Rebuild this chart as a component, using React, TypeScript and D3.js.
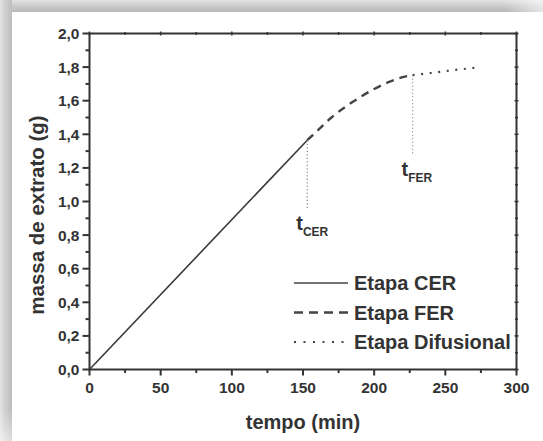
import React from "react";
import * as d3 from "d3";

const xTicks = [0, 50, 100, 150, 200, 250, 300];
const xMinor = [25, 75, 125, 175, 225, 275];
const yTicks = [0, 0.2, 0.4, 0.6, 0.8, 1.0, 1.2, 1.4, 1.6, 1.8, 2.0];
const yMinor = [0.1, 0.3, 0.5, 0.7, 0.9, 1.1, 1.3, 1.5, 1.7, 1.9];

const cerT = [0, 153];
const cerV = [0, 1.365];
const ferT = [153, 160, 170, 180, 190, 200, 210, 220, 227];
const ferV = [1.365, 1.42, 1.5, 1.565, 1.62, 1.67, 1.71, 1.74, 1.752];
const difT = [227, 240, 250, 260, 275];
const difV = [1.752, 1.765, 1.776, 1.786, 1.8];

const markerT = [153, 227];
const markerTop = [1.365, 1.752];
const markerBottom = [0.96, 1.28];
const markerSub = ["CER", "FER"];

const legendLabels = ["Etapa CER", "Etapa FER", "Etapa Difusional"];

const FONT = "'Liberation Sans', Arial, Helvetica, sans-serif";
const INK = "#333";

export default function App() {
  const x = d3.scaleLinear().domain([0, 300]).range([89.5, 516.5]);
  const y = d3.scaleLinear().domain([0, 2]).range([369.5, 33.5]);
  const line = d3
    .line<[number, number]>()
    .x((d) => x(d[0]))
    .y((d) => y(d[1]))
    .curve(d3.curveMonotoneX);
  const zip = (a: number[], b: number[]) => a.map((t, i) => [t, b[i]] as [number, number]);

  const styles = [
    { dash: undefined as string | undefined, legDash: undefined as string | undefined, w: 1.6 },
    { dash: "8 6", legDash: "9 6", w: 2.4 },
    { dash: "2 6.6", legDash: "2 7.5", w: 2.2 },
  ];
  const series = [zip(cerT, cerV), zip(ferT, ferV), zip(difT, difV)];
  const fmt = (v: number) => v.toFixed(1).replace(".", ",");

  return (
    <svg
      width={543}
      height={441}
      style={{ position: "absolute", left: 0, top: 0, display: "block" }}
      fontFamily={FONT}
    >
      <defs>
        <linearGradient id="topG" x1="0" y1="0" x2="0" y2="1">
          <stop offset="0" stopColor="#e4e4e4" />
          <stop offset="0.4" stopColor="#cfcfcf" />
          <stop offset="1" stopColor="#b9b9b9" />
        </linearGradient>
        <linearGradient id="topFade" x1="0" y1="0" x2="1" y2="0">
          <stop offset="0" stopColor="#fff" stopOpacity="0" />
          <stop offset="0.93" stopColor="#fff" stopOpacity="0" />
          <stop offset="1" stopColor="#fff" stopOpacity="0.6" />
        </linearGradient>
        <linearGradient id="leftG" x1="0" y1="0" x2="1" y2="0">
          <stop offset="0" stopColor="#e4e4e4" />
          <stop offset="0.4" stopColor="#d0d0d0" />
          <stop offset="1" stopColor="#bdbdbd" />
        </linearGradient>
        <linearGradient id="leftFade" x1="0" y1="0" x2="0" y2="1">
          <stop offset="0" stopColor="#fff" stopOpacity="0" />
          <stop offset="0.93" stopColor="#fff" stopOpacity="0" />
          <stop offset="1" stopColor="#fff" stopOpacity="0.5" />
        </linearGradient>
      </defs>
      <rect x={0} y={0} width={543} height={441} fill="#fff" />
      <rect x={0} y={0} width={543} height={12} fill="url(#topG)" />
      <rect x={0} y={0} width={543} height={12} fill="url(#topFade)" />
      <rect x={0} y={0} width={12} height={441} fill="url(#leftG)" />
      <rect x={0} y={0} width={12} height={441} fill="url(#leftFade)" />

      {/* curves */}
      {series.map((s, i) => (
        <path
          key={i}
          d={line(s) || ""}
          fill="none"
          stroke={i === 0 ? "#3a3a3a" : "#444"}
          strokeWidth={styles[i].w}
          strokeDasharray={styles[i].dash}
          strokeLinecap="butt"
        />
      ))}

      {/* marker verticals */}
      {markerT.map((t, i) => (
        <line
          key={i}
          x1={x(t)}
          x2={x(t)}
          y1={y(markerTop[i])}
          y2={y(markerBottom[i])}
          stroke="#888"
          strokeWidth={1.2}
          strokeDasharray="1.2 2.3"
        />
      ))}
      {markerT.map((t, i) => (
        <text
          key={"m" + i}
          x={x(t) - 11}
          y={y(markerBottom[i]) + 22}
          fill={INK}
          fontWeight="bold"
          fontSize={20}
        >
          t
          <tspan fontSize={12} dy={6}>
            {markerSub[i]}
          </tspan>
        </text>
      ))}

      {/* axes frame */}
      <rect
        x={x(0)}
        y={y(2)}
        width={x(300) - x(0)}
        height={y(0) - y(2)}
        fill="none"
        stroke={INK}
        strokeWidth={2}
      />

      {/* x ticks */}
      {xTicks.map((t) => (
        <g key={"xt" + t}>
          <line x1={x(t)} x2={x(t)} y1={y(0)} y2={y(0) + 6} stroke={INK} strokeWidth={2} />
          <line x1={x(t)} x2={x(t)} y1={y(2) - 2} y2={y(2) + 2} stroke={INK} strokeWidth={1.5} />
          <text x={x(t)} y={393} textAnchor="middle" fill={INK} fontWeight="bold" fontSize={15.5}>
            {t}
          </text>
        </g>
      ))}
      {xMinor.map((t) => (
        <g key={"xm" + t}>
          <line x1={x(t)} x2={x(t)} y1={y(0)} y2={y(0) + 3.5} stroke={INK} strokeWidth={2} />
          <line x1={x(t)} x2={x(t)} y1={y(2) - 1.5} y2={y(2) + 1.5} stroke={INK} strokeWidth={1.5} />
        </g>
      ))}

      {/* y ticks */}
      {yTicks.map((v) => (
        <g key={"yt" + v}>
          <line x1={x(0) - 7} x2={x(0)} y1={y(v)} y2={y(v)} stroke={INK} strokeWidth={2} />
          <line x1={x(300) - 2} x2={x(300) + 2} y1={y(v)} y2={y(v)} stroke={INK} strokeWidth={1.5} />
          <text
            x={79.5}
            y={y(v)}
            dy="0.36em"
            textAnchor="end"
            fill={INK}
            fontWeight="bold"
            fontSize={15.5}
          >
            {fmt(v)}
          </text>
        </g>
      ))}
      {yMinor.map((v) => (
        <g key={"ym" + v}>
          <line x1={x(0) - 4} x2={x(0)} y1={y(v)} y2={y(v)} stroke={INK} strokeWidth={2} />
          <line x1={x(300) - 1.5} x2={x(300) + 1.5} y1={y(v)} y2={y(v)} stroke={INK} strokeWidth={1.5} />
        </g>
      ))}

      {/* legend */}
      {legendLabels.map((lab, i) => {
        const cy = 283 + i * 29.5;
        return (
          <g key={"lg" + i}>
            <line
              x1={294}
              x2={348}
              y1={cy}
              y2={cy}
              stroke="#444"
              strokeWidth={styles[i].w}
              strokeDasharray={styles[i].legDash}
            />
            <text x={354} y={cy + 7} fill={INK} fontWeight="bold" fontSize={20}>
              {lab}
            </text>
          </g>
        );
      })}

      {/* axis titles */}
      <text x={303} y={429} textAnchor="middle" fill={INK} fontWeight="bold" fontSize={20}>
        tempo (min)
      </text>
      <text
        transform="translate(44,215) rotate(-90)"
        textAnchor="middle"
        fill={INK}
        fontWeight="bold"
        fontSize={20.5}
      >
        massa de extrato (g)
      </text>
    </svg>
  );
}
